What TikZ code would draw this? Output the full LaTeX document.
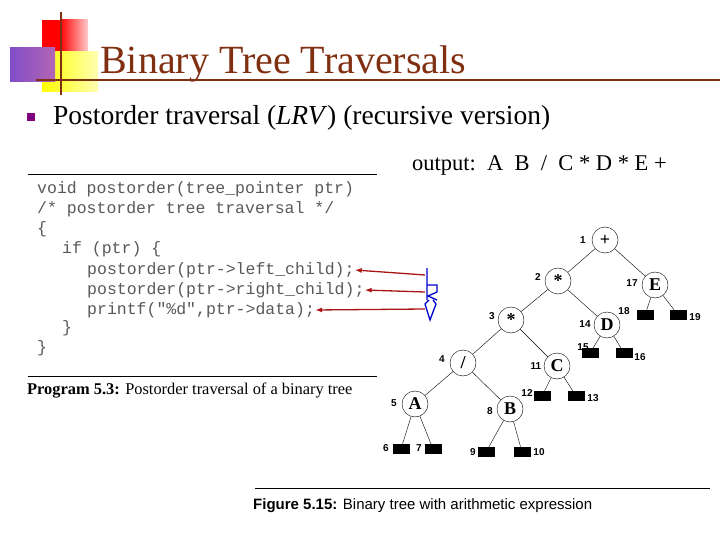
\documentclass[tikz,border=0pt]{standalone}
\usepackage{fontspec}
\setmainfont{Liberation Serif}
\setmonofont{Liberation Mono}
\newfontfamily\helv{Liberation Sans}
\usetikzlibrary{arrows.meta}
\definecolor{brn}{RGB}{128,48,16}
\definecolor{darkred}{RGB}{170,20,20}
\tikzset{x=1pt,y=-1pt,
 tn/.style={circle,draw,thin,minimum size=26pt,inner sep=0pt,font=\fontsize{18}{18}\selectfont\bfseries},
 lf/.style={fill=black,minimum width=17pt,minimum height=10pt,inner sep=0pt},
 num/.style={font=\helv\fontsize{10}{10}\selectfont\bfseries,inner sep=1pt},
 code/.style={anchor=west,font=\ttfamily\fontsize{16.5}{16.5}\selectfont,text=black!65,inner sep=0pt},
 arr/.style={darkred,line width=1.3pt,-{Latex[length=7pt,width=5pt]}}}
\begin{document}
\begin{tikzpicture}
\useasboundingbox (0,0) rectangle (720,540);
% logo
\fill[red] (42,20) rectangle (88,52);
\shade[left color=red,right color=red!20] (60,20) rectangle (88,52);
\shade[left color=yellow,right color=yellow!30] (42,52) rectangle (98,92);
\shade[left color=violet!60!blue!70,right color=violet!60] (10,48) rectangle (55,82);
\draw[brn,line width=2.5pt] (36,80) -- (720,80);
\draw[brn,line width=2.5pt] (61,12) -- (61,95);
\node[anchor=base west,text=brn,font=\fontsize{40}{40}\selectfont,inner sep=0] (title) at (100,74) {Binary Tree Traversals};
% bullet
\fill[violet] (27,113) rectangle (35,121);
\node[anchor=base west,font=\fontsize{27.5}{27.5}\selectfont,inner sep=0] (sub) at (53,125) {Postorder traversal (\textit{LRV}) (recursive version)};
\node[anchor=base west,font=\fontsize{22.5}{22.5}\selectfont,inner sep=0] (out) at (412,171) {output:\ \ A\ \ B \ / \ C * D * E +};
% code
\draw[line width=1pt] (28,175) -- (377,175);
\draw[line width=1pt] (28,376) -- (377,376);
\node[code] (c1) at (37,189) {void postorder(tree\_pointer ptr)};
\node[code] (c2) at (37,209) {/* postorder tree traversal */};
\node[code] (c3) at (37,229) {\{};
\node[code] (c4) at (62,249) {if (ptr) \{};
\node[code] (c5) at (87,270) {postorder(ptr->left\_child);};
\node[code] (c6) at (87,290) {postorder(ptr->right\_child);};
\node[code] (c7) at (87,310) {printf("\%d",ptr->data);};
\node[code] (c8) at (62,328) {\}};
\node[code] (c9) at (37,348) {\}};
\node[anchor=base west,font=\fontsize{16.4}{16.4}\selectfont,inner sep=0] (cap1) at (27,394) {\textbf{Program 5.3:} Postorder traversal of a binary tree};
% arrows and LRV
\coordinate (a1) at (425,275); \coordinate (a2) at (425,292); \coordinate (a3) at (425,309);
\draw[arr] (a1) -- (c5.east);
\draw[arr] (a2) -- (c6.east);
\draw[arr] (a3) -- (c7.east);
\draw[blue!80!black,line width=1.3pt] (427,268) -- (427,300)
  (427,285) -- (437,285) -- (437,292) -- (428,296) -- (437,300)
  (429,300) -- (425,304) -- (430,320) -- (436,304) -- (433,300);
% tree
\node[tn] (n1) at (605,240) {+};
\node[tn] (n2) at (558,281) {*};
\node[tn] (n17) at (655,285) {E};
\node[tn] (n3) at (511,320) {*};
\node[tn] (n14) at (607,325) {D};
\node[tn] (n4) at (463,363) {/};
\node[tn] (n11) at (557,366) {C};
\node[tn] (n5) at (415,404) {A};
\node[tn] (n8) at (510,409) {B};
\node[lf] (n6) at (401,449) {}; \node[lf] (n7) at (433,449) {};
\node[lf] (n9) at (486,452) {}; \node[lf] (n10) at (522,452) {};
\node[lf] (n12) at (542,396) {}; \node[lf] (n13) at (576,396) {};
\node[lf] (n15) at (590,353) {}; \node[lf] (n16) at (624,353) {};
\node[lf] (n18) at (645,315) {}; \node[lf] (n19) at (678,315) {};
\draw[thin] (n1)--(n2) (n1)--(n17) (n2)--(n3) (n2)--(n14) (n3)--(n4) (n3)--(n11)
 (n4)--(n5) (n4)--(n8) (n5)--(n6) (n5)--(n7) (n8)--(n9) (n8)--(n10)
 (n11)--(n12) (n11)--(n13) (n14)--(n15) (n14)--(n16) (n17)--(n18) (n17)--(n19);
\foreach \t/\x/\y in {1/583/240,2/538/277,17/632/283,3/492/316,14/585/324,4/442/359,11/536/366,5/394/403,8/490/411,6/386/448,7/419/448,9/473/452,10/539/452,12/527/393,13/593/398,15/583/347,16/640/357,18/624/311,19/695/317}
  \node[num] (l\t) at (\x,\y) {\t};
\draw[line width=1pt] (255,488) -- (710,488);
\node[anchor=base west,font=\helv\fontsize{15}{15}\selectfont,inner sep=0] (cap2) at (253,509) {\textbf{Figure 5.15:} Binary tree with arithmetic expression};
\end{tikzpicture}
\end{document}
